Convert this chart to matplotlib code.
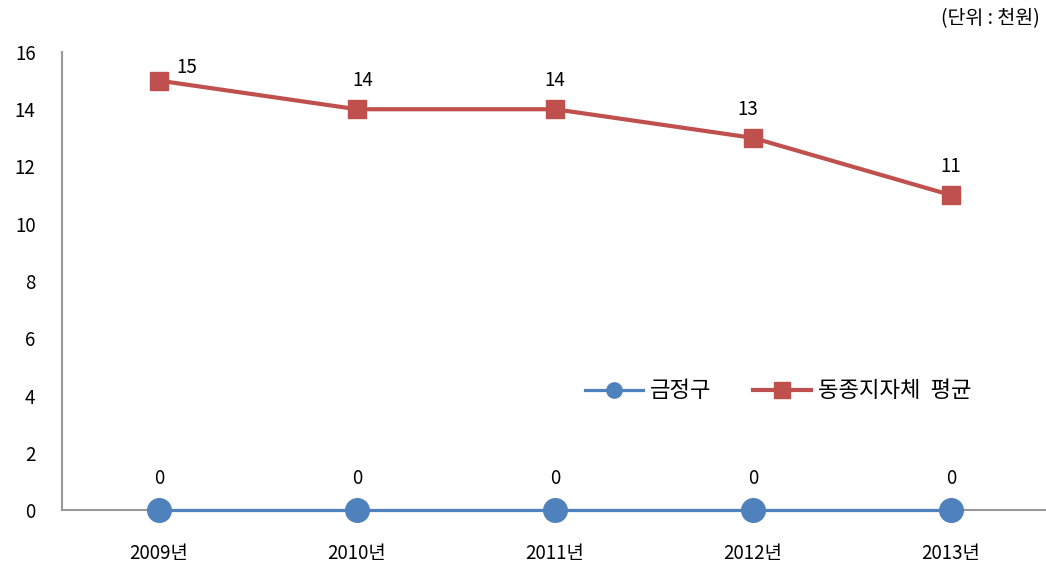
import matplotlib.pyplot as plt

plt.rcParams['font.family'] = ['Noto Sans CJK KR', 'DejaVu Sans']

years = ['2009년', '2010년', '2011년', '2012년', '2013년']
geumjeong = [0, 0, 0, 0, 0]
peer_avg = [15, 14, 14, 13, 11]
# nudge (points) of the red value labels
peer_label_dx = [20, 4, 0, -4, 0]
peer_label_dy = [2, 13, 13, 13, 13]


def make_chart():
    fig = plt.figure(figsize=(10.46, 5.75), dpi=100)
    ax = fig.add_axes([62 / 1046, 65 / 575, 984 / 1046, 458 / 575])

    x = list(range(len(years)))
    ax.plot(x, geumjeong, color='#4F81BD', lw=2.3, marker='o', ms=17,
            label='금정구', zorder=3, clip_on=False)
    ax.plot(x, peer_avg, color='#C0504D', lw=3, marker='s', ms=13,
            label='동종지자체  평균', zorder=3)

    for i, v in enumerate(geumjeong):
        ax.annotate(str(v), (x[i], v), xytext=(0, 15), textcoords='offset points',
                    ha='center', va='bottom', fontsize=13.5)
    for i, v in enumerate(peer_avg):
        ax.annotate(str(v), (x[i], v), xytext=(peer_label_dx[i], peer_label_dy[i]),
                    textcoords='offset points', ha='center', va='bottom', fontsize=13.5)

    ax.set_xlim(-0.49, 4.48)
    ax.set_ylim(0, 16)
    ax.set_yticks(range(0, 17, 2))
    ax.set_xticks(x)
    ax.set_xticklabels(years)
    ax.tick_params(length=0, labelsize=13.5)
    ax.tick_params(axis='x', pad=24)
    ax.tick_params(axis='y', pad=19)
    for s in ['top', 'right']:
        ax.spines[s].set_visible(False)
    for s in ['left', 'bottom']:
        ax.spines[s].set_color('#999999')
        ax.spines[s].set_linewidth(1.5)

    leg = ax.legend(loc='center', bbox_to_anchor=(0.728, 0.26), ncol=2, frameon=False,
                    fontsize=16, handlelength=2.6, columnspacing=1.9, handletextpad=0.3)
    for h in leg.legend_handles:
        h.set_markersize(11)

    fig.text(0.994, 0.985, '(단위 : 천원)', ha='right', va='top', fontsize=14)

    fig.savefig('out.png', dpi=100)


if __name__ == "__main__":
    make_chart()
